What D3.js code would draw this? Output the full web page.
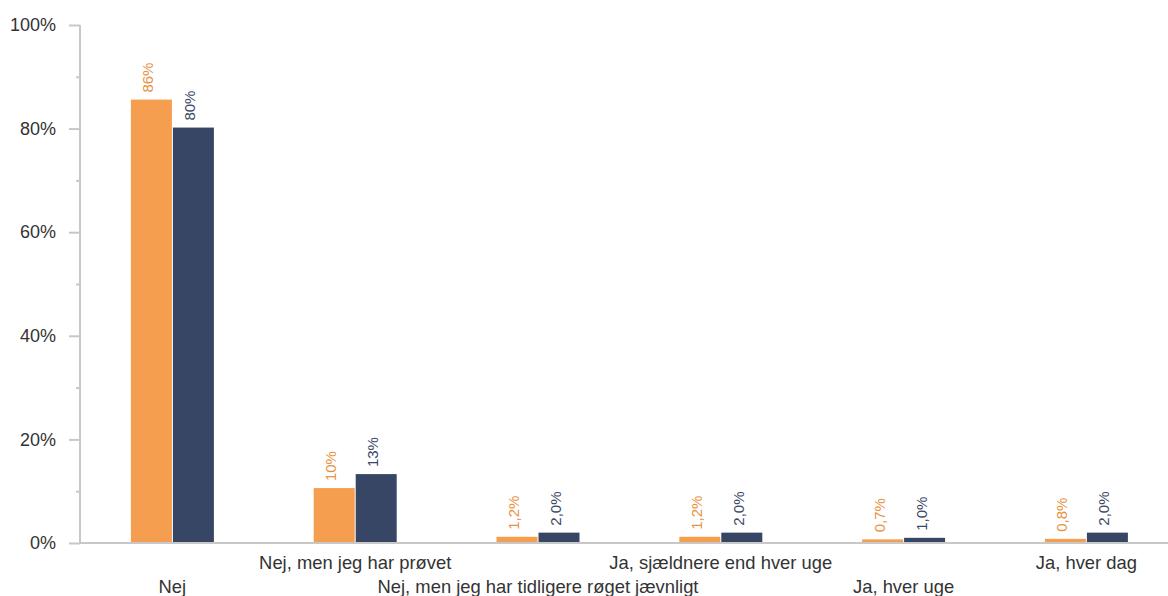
<!DOCTYPE html>
<html><head><meta charset="utf-8">
<script src="https://cdn.jsdelivr.net/npm/d3@7"></script>
<style>body{margin:0;background:#fff;}svg{display:block;font-family:"Liberation Sans",Arial,sans-serif;}</style>
</head><body><svg id="c" width="1168" height="596"></svg>
<script>
const categories = ["Nej","Nej, men jeg har prøvet","Nej, men jeg har tidligere røget jævnligt","Ja, sjældnere end hver uge","Ja, hver uge","Ja, hver dag"];
const series = ["A","B"];
const valuesA = [85.6, 10.6, 1.2, 1.2, 0.7, 0.8];
const valuesB = [80.2, 13.3, 2.0, 2.0, 1.0, 2.0];
const labelsA = ["86%","10%","1,2%","1,2%","0,7%","0,8%"];
const labelsB = ["80%","13%","2,0%","2,0%","1,0%","2,0%"];
const yTicks = [0,20,40,60,80,100];
const yMinorTicks = [10,30,50,70,90];

const colors = {A:"#F59E4F", B:"#374664"};
const labelColors = {A:"#E8913F", B:"#3A4766"};

const svg = d3.select("#c");
const x0 = 80, yTop = 25, yBot = 543;
const y = d3.scaleLinear().domain([0,100]).range([yBot, yTop]);
const x = d3.scaleBand().domain(categories).range([x0 + 1, x0 + 1 + 6*182.8]).padding(0);
const xs = d3.scaleBand().domain(series).range([-41.5, 41.5]).paddingInner(0.024);

// y axis
const yAxis = d3.axisLeft(y).tickValues(yTicks).tickFormat(d => d + "%").tickSize(11).tickPadding(13);
const gy = svg.append("g").attr("transform", `translate(${x0},0)`).call(yAxis);
gy.select(".domain").attr("stroke", "#c8c8c8").attr("stroke-width", 2).attr("d", `M0,${yTop}V${yBot}`);
gy.selectAll(".tick line").attr("stroke", "#c8c8c8").attr("stroke-width", 2);
gy.selectAll(".tick text").attr("fill", "#333").style("font-size", "18px").style("font-family", "'Liberation Sans',Arial,sans-serif");
const gyMinor = svg.append("g").attr("transform", `translate(${x0},0)`).call(d3.axisLeft(y).tickValues(yMinorTicks).tickSize(4).tickFormat(""));
gyMinor.select(".domain").remove();
gyMinor.selectAll(".tick line").attr("stroke", "#c8c8c8").attr("stroke-width", 2);

// bars
const groups = svg.append("g").selectAll("g").data(categories).join("g")
  .attr("transform", d => `translate(${x(d) + x.bandwidth()/2},0)`);
const rows = categories.map((c,i) => [
  {s:"A", v:valuesA[i], l:labelsA[i]},
  {s:"B", v:valuesB[i], l:labelsB[i]}
]);
groups.selectAll("rect").data((d,i) => rows[i]).join("rect")
  .attr("x", d => xs(d.s)).attr("width", xs.bandwidth())
  .attr("y", d => y(d.v)).attr("height", d => y(0) - y(d.v))
  .attr("fill", d => colors[d.s]);
groups.selectAll("text").data((d,i) => rows[i]).join("text")
  .attr("transform", d => `translate(${xs(d.s) + xs.bandwidth()/2 + 2},${y(d.v) - 7}) rotate(-90)`)
  .attr("text-anchor", "start")
  .attr("fill", d => labelColors[d.s])
  .style("font-size", "15px")
  .text(d => d.l);

// x axis baseline
svg.append("line").attr("x1", x0).attr("x2", 1168).attr("y1", yBot).attr("y2", yBot)
  .attr("stroke", "#c8c8c8").attr("stroke-width", 2);

// category labels
svg.append("g").selectAll("text").data(categories).join("text")
  .attr("x", d => x(d) + x.bandwidth()/2)
  .attr("y", (d,i) => i % 2 === 0 ? 592.5 : 568.5)
  .attr("text-anchor", "middle")
  .attr("fill", "#333")
  .style("font-size", "18.4px")
  .text(d => d);
</script></body></html>
